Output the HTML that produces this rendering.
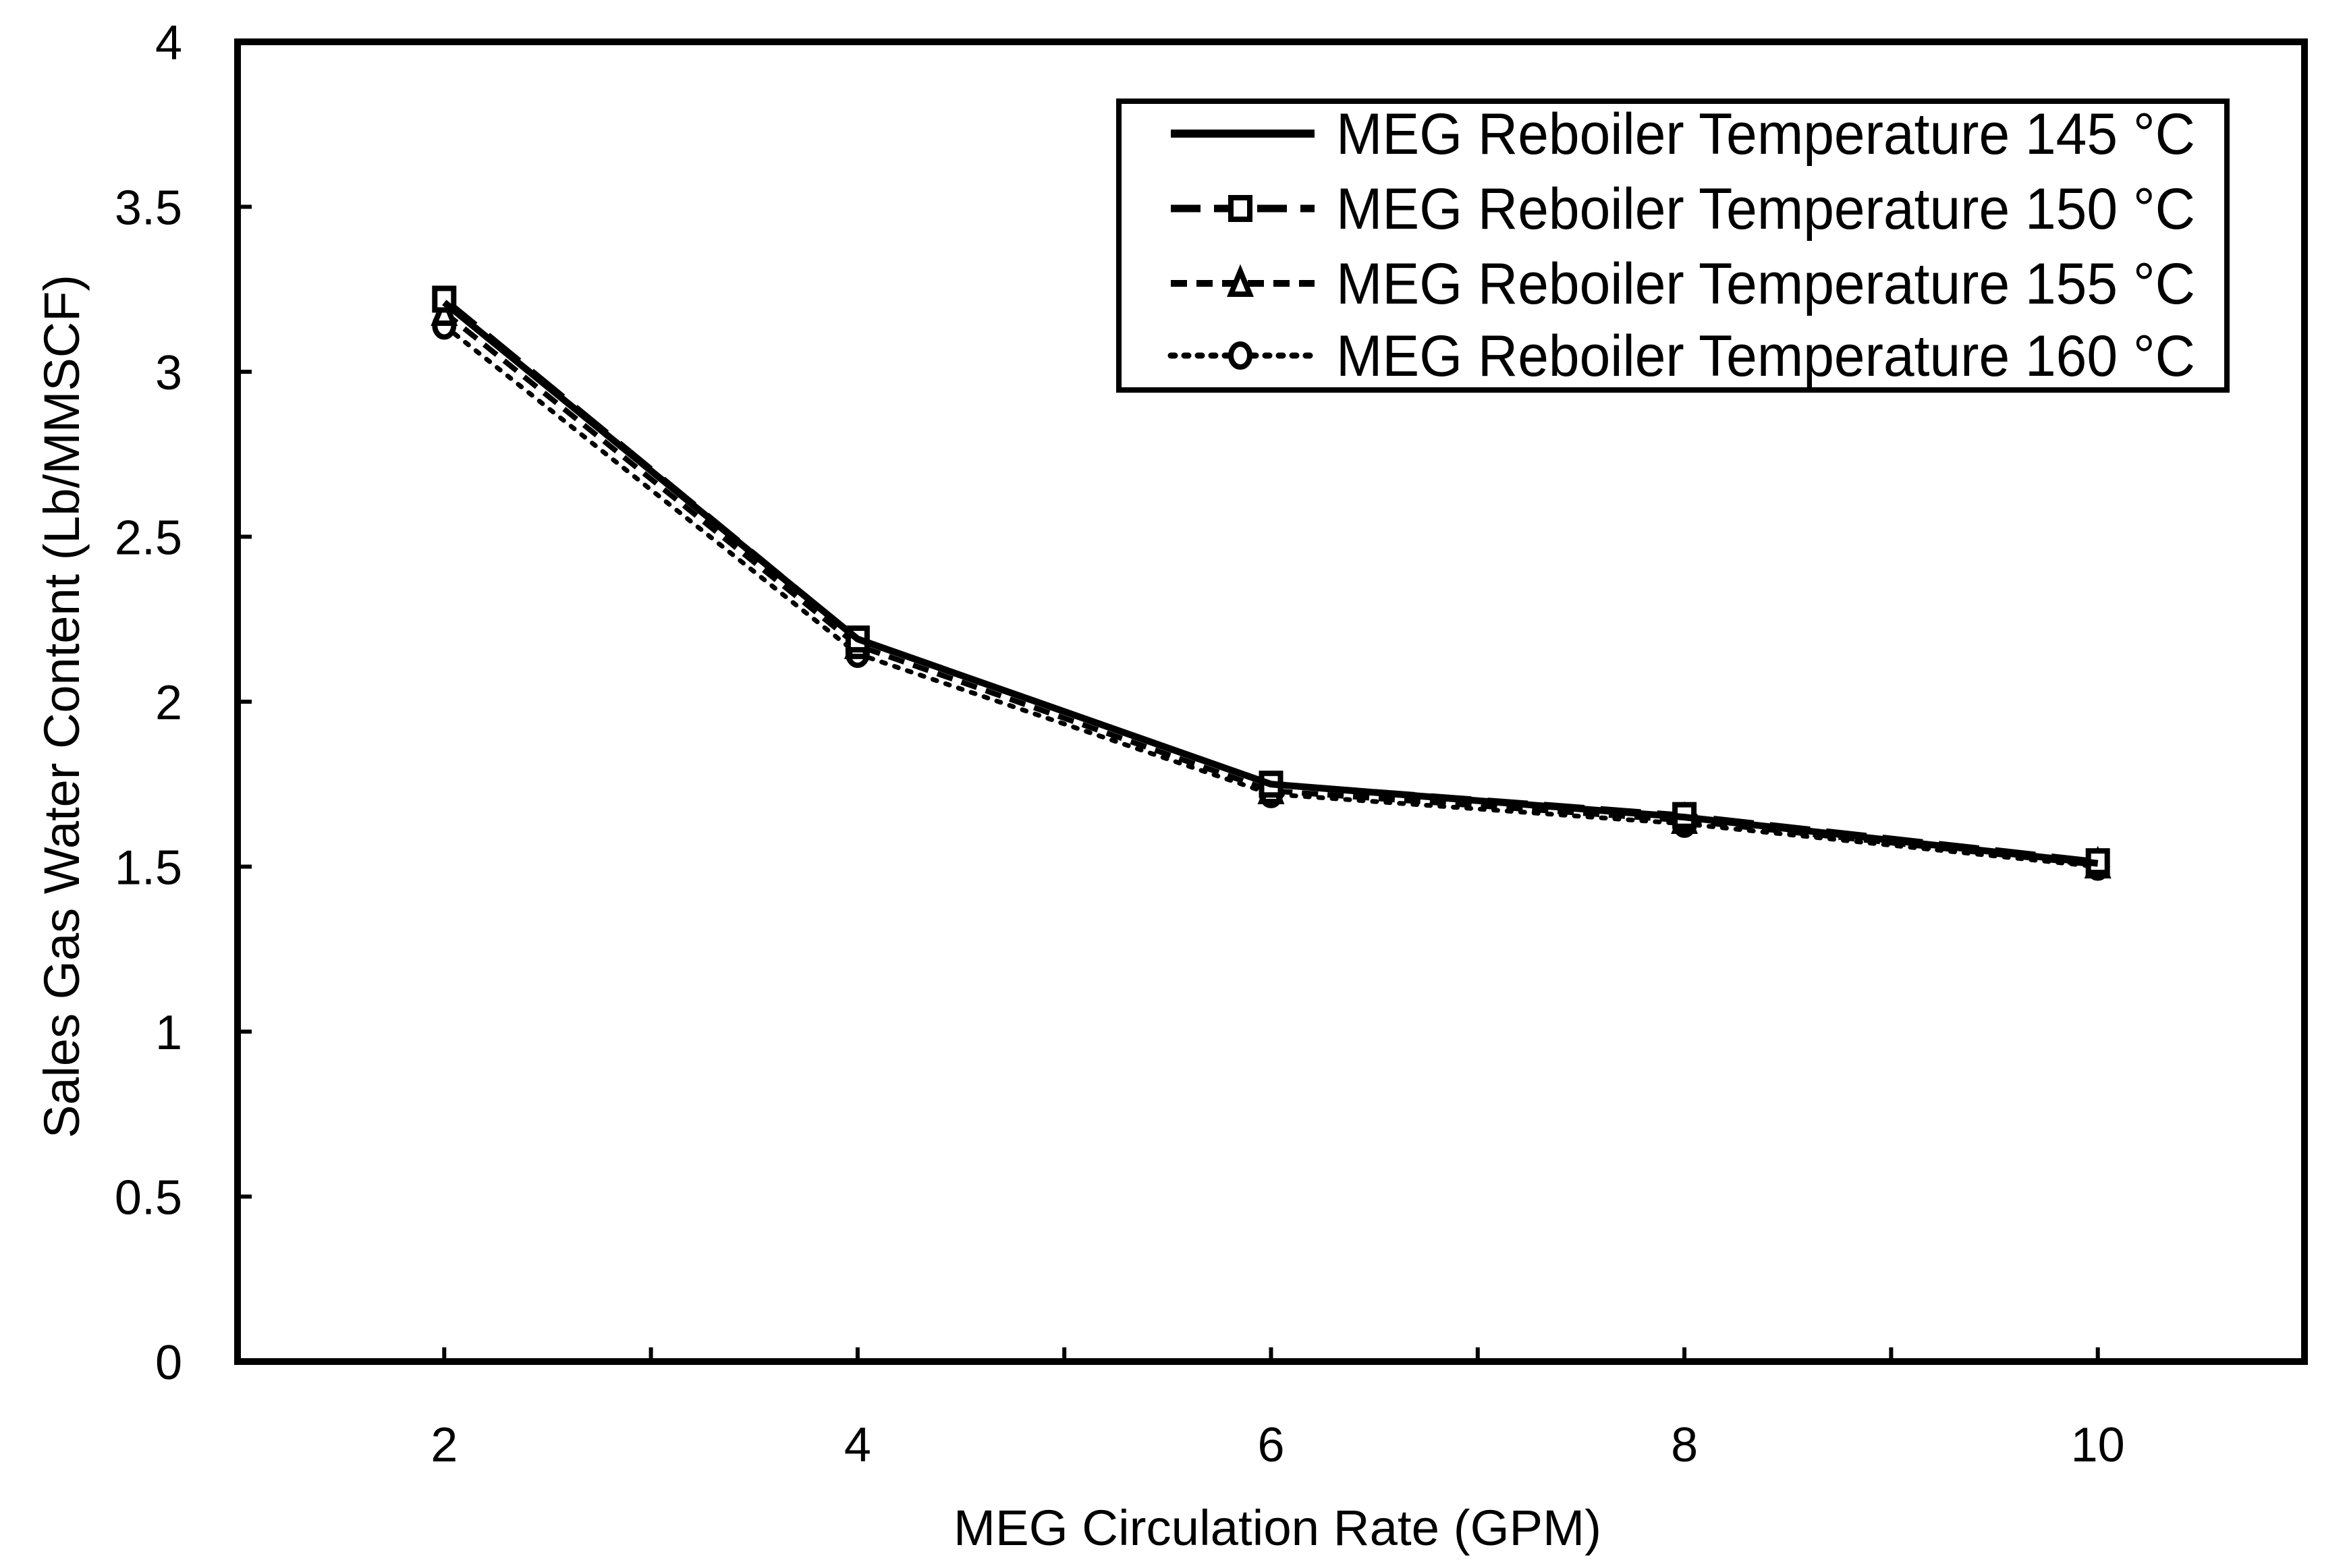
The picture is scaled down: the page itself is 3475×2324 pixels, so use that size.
<!DOCTYPE html>
<html><head><meta charset="utf-8"><style>html,body{margin:0;padding:0;background:#fff}svg{display:block}text{font-family:"Liberation Sans",sans-serif;fill:#000}</style></head>
<body>
<svg id="chart" width="3475" height="2324" viewBox="0 0 3475 2324" xmlns="http://www.w3.org/2000/svg">
<g id="marks"></g>
<rect x="352" y="62" width="3063" height="1956" fill="none" stroke="#000" stroke-width="10"/>
<g id="axes"></g>
<text x="1893" y="2290" font-size="74" text-anchor="middle" textLength="960" lengthAdjust="spacingAndGlyphs">MEG Circulation Rate (GPM)</text>
<text transform="translate(117,1047) rotate(-90)" font-size="74" text-anchor="middle" textLength="1280" lengthAdjust="spacingAndGlyphs">Sales Gas Water Content (Lb/MMSCF)</text>
<g>
<rect x="1658" y="150" width="1642" height="428" fill="#fff" stroke="#000" stroke-width="8"/>
<g id="legend-entries"></g>
</g>
</svg>
<script>
const categories = [2, 4, 6, 8, 10];
const s145 = [3.21, 2.19, 1.75, 1.65, 1.51];
const s150 = [3.22, 2.19, 1.75, 1.655, 1.515];
const s155 = [3.18, 2.17, 1.73, 1.64, 1.505];
const s160 = [3.14, 2.145, 1.72, 1.63, 1.50];
const seriesNames = ["MEG Reboiler Temperature 145 °C","MEG Reboiler Temperature 150 °C","MEG Reboiler Temperature 155 °C","MEG Reboiler Temperature 160 °C"];
const yTicks = [0, 0.5, 1, 1.5, 2, 2.5, 3, 3.5, 4];
const yTickLabels = ["0","0.5","1","1.5","2","2.5","3","3.5","4"];
const xTicks = [2, 4, 6, 8, 10];
const xMinor = [1,2,3,4,5,6,7,8,9,10,11];

const NS = "http://www.w3.org/2000/svg";
const L=352,R=3415,T=62,B=2018;
function xs(v){return L+(v-1)/10*(R-L);}
function ys(v){return B-v/4*(B-T);}
function mk(tag,attrs,parent){const e=document.createElementNS(NS,tag);for(const k in attrs)e.setAttribute(k,attrs[k]);parent.appendChild(e);return e;}
const axes=document.getElementById('axes'), marks=document.getElementById('marks'), leg=document.getElementById('legend-entries');

yTicks.forEach((t,i)=>{
  const ln=mk('line',{x1:L,x2:L+21,y1:ys(t),y2:ys(t),stroke:'#000','stroke-width':6},axes);
  
  
  const tx=mk('text',{x:270,y:ys(t)+26,'font-size':72,'text-anchor':'end'},axes);
  tx.textContent=yTickLabels[i];
  
  
});
xMinor.forEach(t=>{
  const ln=mk('line',{x1:xs(t),x2:xs(t),y1:B,y2:B-21,stroke:'#000','stroke-width':6},axes);
  
  
});
xTicks.forEach(t=>{
  const tx=mk('text',{x:xs(t),y:2166,'font-size':72,'text-anchor':'middle'},axes);
  tx.textContent=String(t);
  
  
});

const styles=[
 {data:s145,dash:null,w:10,marker:'none'},
 {data:s150,dash:'60 24',w:9,marker:'square'},
 {data:s155,dash:'24 14',w:8,marker:'triangle'},
 {data:s160,dash:'6 14',w:7,marker:'circle',cap:'round'}
];
function drawMarker(type,x,y,parent){
  if(type==='square'){const m=mk('rect',{x:x-14,y:y-16,width:28,height:32,fill:'#fff',stroke:'#000','stroke-width':8},parent);}
  else if(type==='triangle'){const m=mk('path',{d:`M${x},${y-18} L${x+14},${y+16} L${x-14},${y+16} Z`,fill:'#fff',stroke:'#000','stroke-width':8},parent);}
  else if(type==='circle'){const m=mk('ellipse',{cx:x,cy:y,rx:14,ry:17,fill:'#fff',stroke:'#000','stroke-width':8},parent);}
}
// draw in reverse so 145 is on top
for(let si=styles.length-1;si>=0;si--){
  const s=styles[si];
  const g=mk('g',{},marks);
  
  
  const d=s.data.map((v,i)=>(i?'L':'M')+xs(categories[i])+','+ys(v)).join(' ');
  const a={d:d,fill:'none',stroke:'#000','stroke-width':s.w,'stroke-linejoin':'round'};
  if(s.dash)a['stroke-dasharray']=s.dash;
  if(s.cap)a['stroke-linecap']=s.cap;
  const p=mk('path',a,g);
  
  
  s.data.forEach((v,i)=>drawMarker(s.marker,xs(categories[i]),ys(v),g));
}
const rowY=[198,309,420,527];
styles.forEach((s,i)=>{
  const g=mk('g',{},leg);
  
  
  const a={x1:1735,x2:1948,y1:rowY[i],y2:rowY[i],stroke:'#000','stroke-width':s.w+2};
  if(s.dash)a['stroke-dasharray']=s.dash==='60 24'?'44 20':s.dash;
  if(s.cap)a['stroke-linecap']=s.cap;
  const ln=mk('line',a,g);
  
  
  drawMarker(s.marker,1838,rowY[i],g);
  const t=mk('text',{x:1980,y:rowY[i]+30,'font-size':86,textLength:1273,lengthAdjust:'spacingAndGlyphs'},g);
  t.textContent=seriesNames[i];
  
  
});
</script>
</body></html>
